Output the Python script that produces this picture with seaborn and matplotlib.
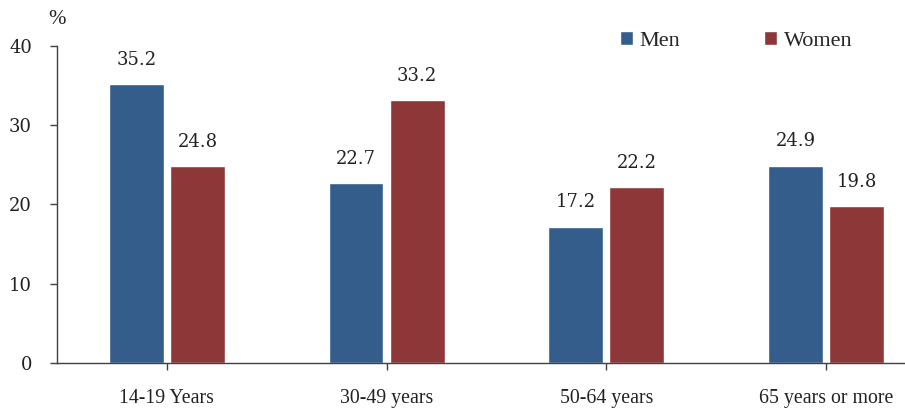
import matplotlib
matplotlib.use("Agg")
import matplotlib.pyplot as plt
import seaborn as sns
import pandas as pd

age_groups = ["14-19 Years", "30-49 years", "50-64 years", "65 years or more"]
men = [35.2, 22.7, 17.2, 24.9]
women = [24.8, 33.2, 22.2, 19.8]
series_names = ["Men", "Women"]
y_ticks = [0, 10, 20, 30, 40]

df = pd.DataFrame({
    "age": age_groups * 2,
    "value": men + women,
    "sex": [series_names[0]] * len(men) + [series_names[1]] * len(women),
})

sns.set_style("white")
plt.rcParams["font.family"] = ["Liberation Serif", "DejaVu Serif"]
plt.rcParams["xtick.bottom"] = True
plt.rcParams["ytick.left"] = True

fig = plt.figure(figsize=(9.05, 4.11), dpi=100)
ax = fig.add_axes([0.063, 0.117, 0.937, 0.771])

palette = {"Men": "#345D8C", "Women": "#8E3738"}
sns.barplot(data=df, x="age", y="value", hue="sex", palette=palette,
            width=0.556, gap=0.1, saturation=1, ax=ax, legend=True)

for cont in ax.containers:
    ax.bar_label(cont, fmt="%.1f", padding=11, family=["DejaVu Serif"],
                 fontsize=13, color="#222222")

ax.set_xlim(-0.5, 3.36)
ax.set_ylim(0, 40)
ax.set_yticks(y_ticks)
ax.set_xlabel("")
ax.set_ylabel("")
ax.tick_params(axis="both", colors="#404040", labelcolor="#222222",
               direction="out", length=5, width=1)
ax.tick_params(axis="x", pad=14, labelsize=14.3)
ax.tick_params(axis="y", pad=13)
for lbl in ax.get_yticklabels():
    lbl.set_fontfamily(["DejaVu Serif"])
    lbl.set_fontsize(13)
for side in ["top", "right"]:
    ax.spines[side].set_visible(False)
for side in ["left", "bottom"]:
    ax.spines[side].set_color("#404040")
    ax.spines[side].set_linewidth(1)

ax.text(0, 1.055, "%", transform=ax.transAxes, ha="center", va="bottom",
        fontsize=15, color="#222222")

ax.legend(loc="upper left", bbox_to_anchor=(0.64, 1.11), ncol=2, frameon=False,
          fontsize=16, handlelength=0.6, handleheight=0.6, handletextpad=0.3,
          columnspacing=3.75)

fig.savefig("out.png", dpi=100)
